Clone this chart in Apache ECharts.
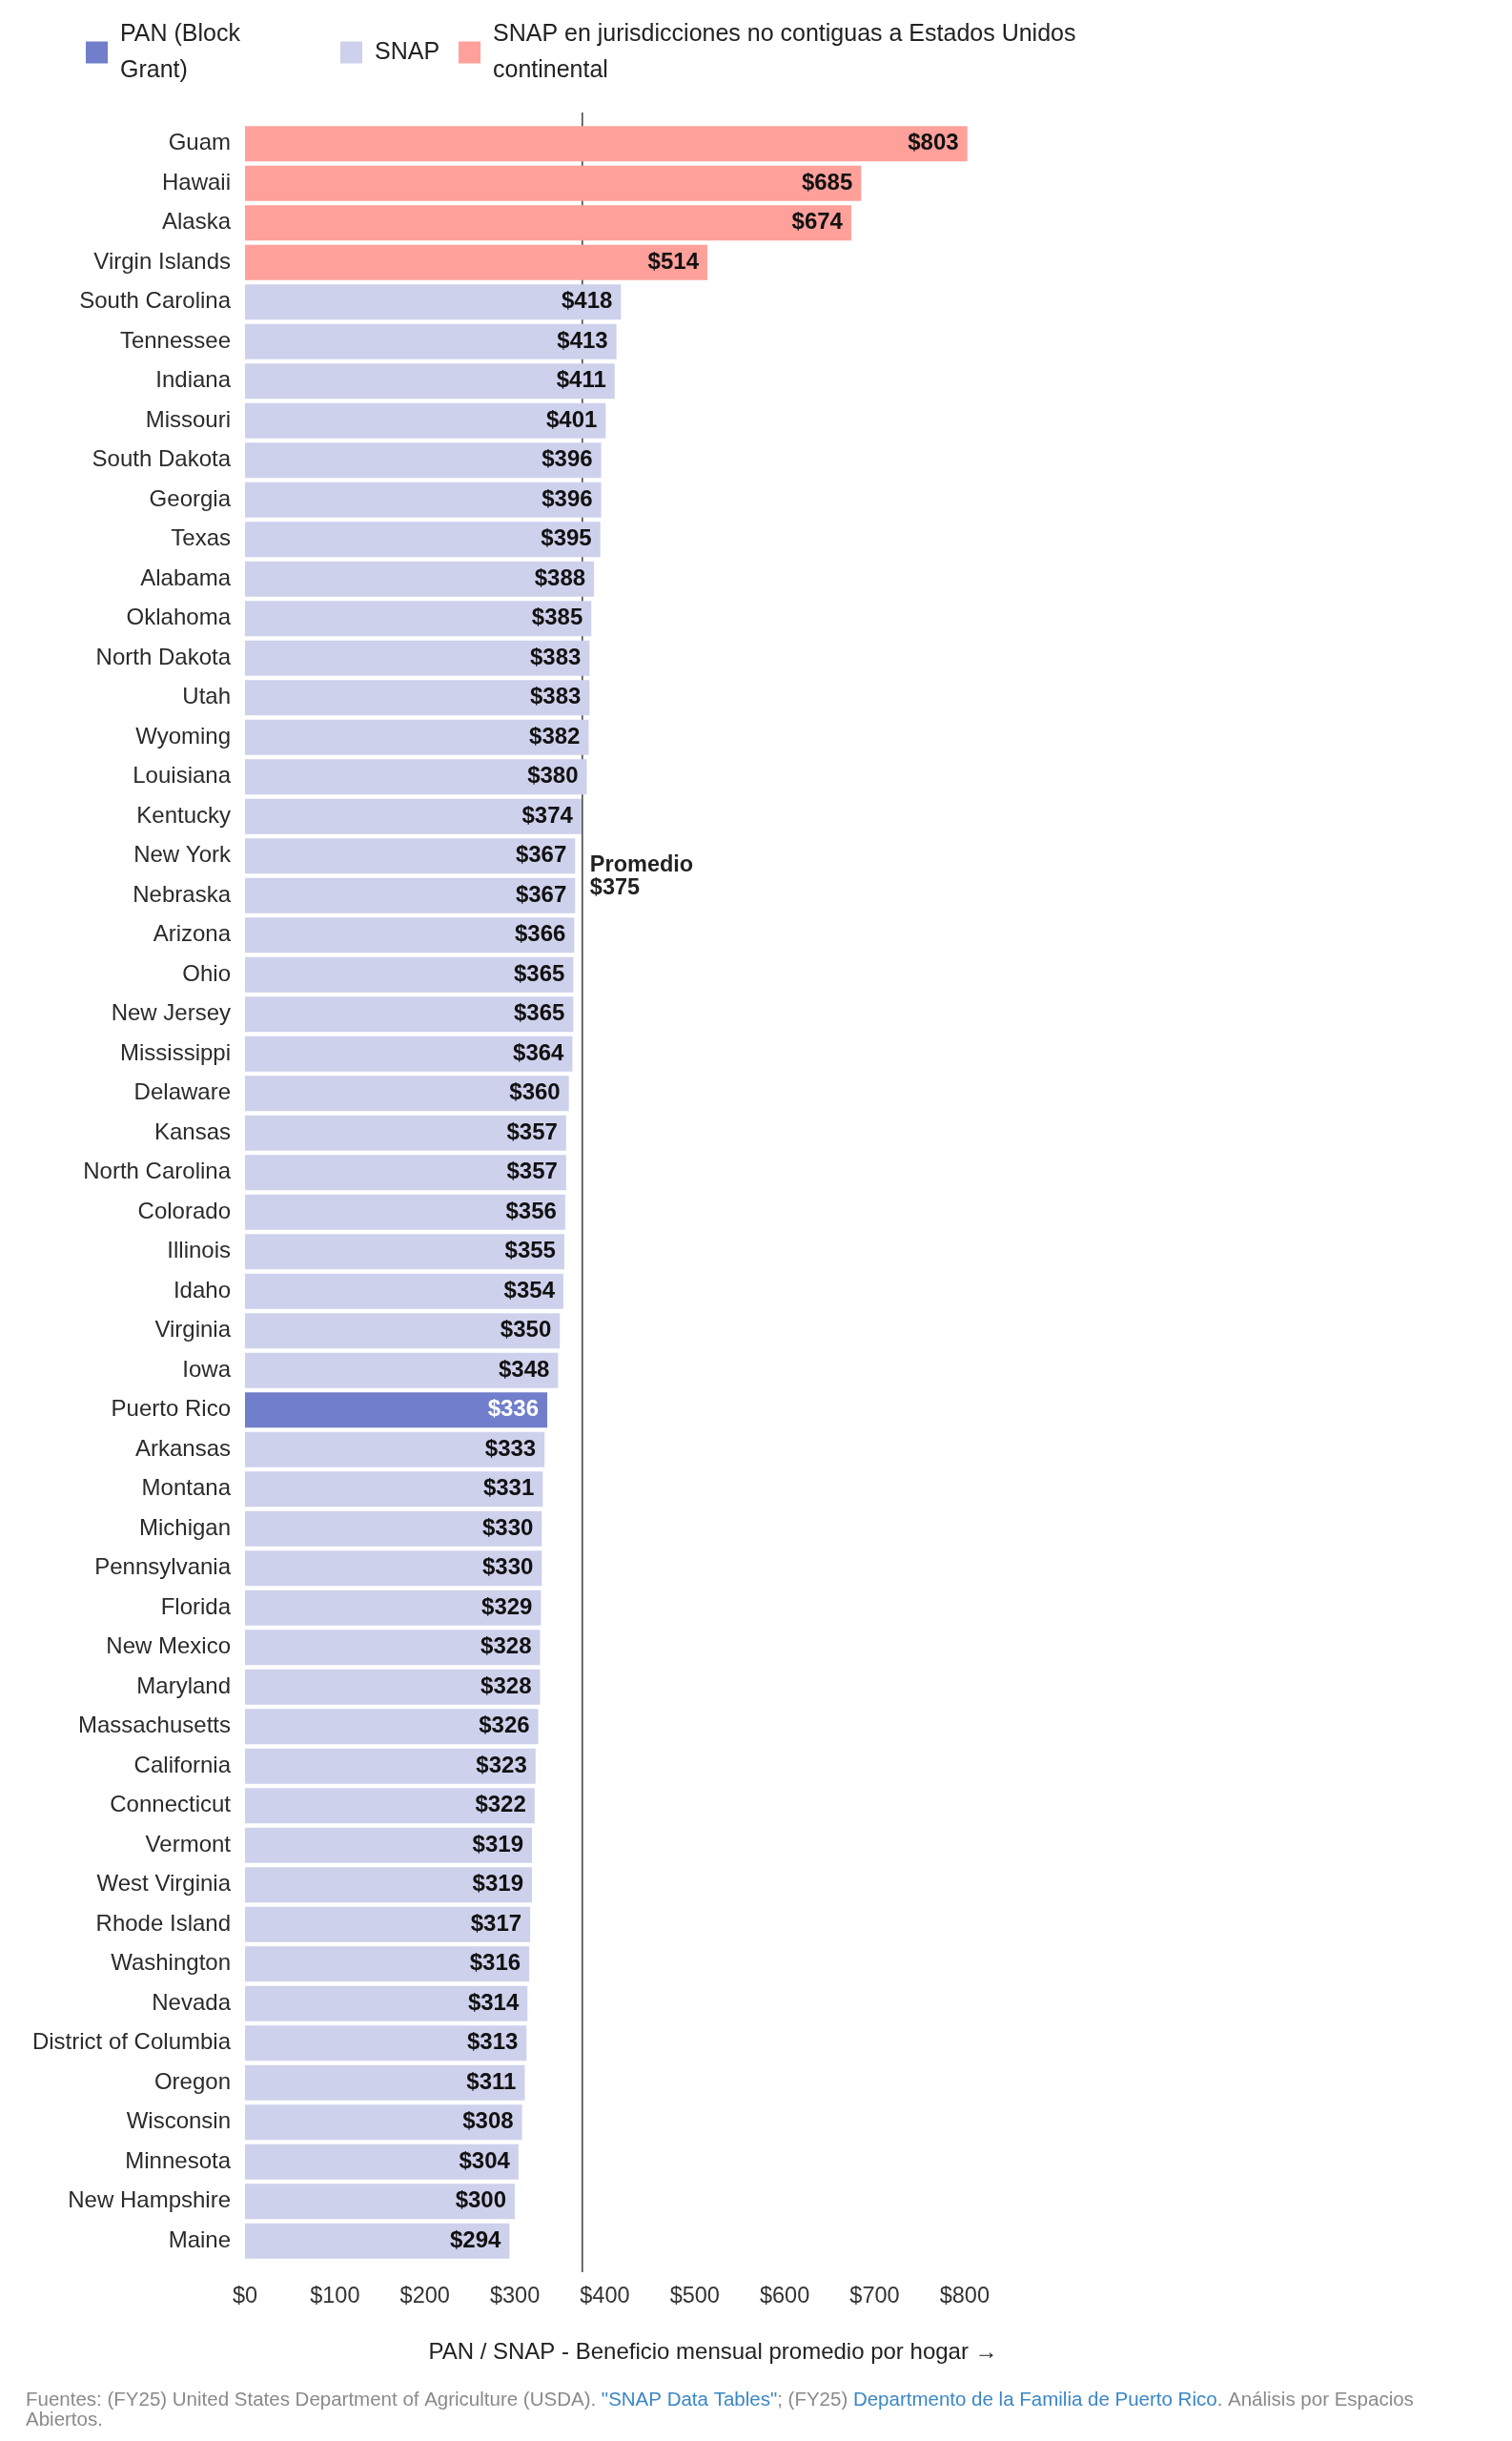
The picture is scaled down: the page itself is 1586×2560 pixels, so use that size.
<!DOCTYPE html>
<html>
<head>
<meta charset="utf-8">
<script src="https://cdn.jsdelivr.net/npm/echarts@6/dist/echarts.min.js"></script>
<style>html,body{margin:0;padding:0;background:#fff;}#c{width:1586px;height:2560px;}</style>
</head>
<body>
<div id="c"></div>
<script>
const categories = ['Guam','Hawaii','Alaska','Virgin Islands','South Carolina','Tennessee','Indiana','Missouri','South Dakota','Georgia','Texas','Alabama','Oklahoma','North Dakota','Utah','Wyoming','Louisiana','Kentucky','New York','Nebraska','Arizona','Ohio','New Jersey','Mississippi','Delaware','Kansas','North Carolina','Colorado','Illinois','Idaho','Virginia','Iowa','Puerto Rico','Arkansas','Montana','Michigan','Pennsylvania','Florida','New Mexico','Maryland','Massachusetts','California','Connecticut','Vermont','West Virginia','Rhode Island','Washington','Nevada','District of Columbia','Oregon','Wisconsin','Minnesota','New Hampshire','Maine'];
const values = [803,685,674,514,418,413,411,401,396,396,395,388,385,383,383,382,380,374,367,367,366,365,365,364,360,357,357,356,355,354,350,348,336,333,331,330,330,329,328,328,326,323,322,319,319,317,316,314,313,311,308,304,300,294];
const groups = ['NC','NC','NC','NC','SNAP','SNAP','SNAP','SNAP','SNAP','SNAP','SNAP','SNAP','SNAP','SNAP','SNAP','SNAP','SNAP','SNAP','SNAP','SNAP','SNAP','SNAP','SNAP','SNAP','SNAP','SNAP','SNAP','SNAP','SNAP','SNAP','SNAP','SNAP','PAN','SNAP','SNAP','SNAP','SNAP','SNAP','SNAP','SNAP','SNAP','SNAP','SNAP','SNAP','SNAP','SNAP','SNAP','SNAP','SNAP','SNAP','SNAP','SNAP','SNAP','SNAP'];
const groupKeys = ['PAN','SNAP','NC'];
const groupNames = ['PAN (Block Grant)','SNAP','SNAP en jurisdicciones no contiguas a Estados Unidos continental'];
const legendLabels = ['PAN (Block\nGrant)','SNAP','SNAP en jurisdicciones no contiguas a Estados Unidos\ncontinental'];
const groupColors = ['#707ecb','#ced1ec','#ffa09b'];
const labelColors = ['#ffffff','#111111','#111111'];
const average = 375;
const averageAnchor = 'New York';
const xTicks = [0,100,200,300,400,500,600,700,800];
const axisTitle = 'PAN / SNAP - Beneficio mensual promedio por hogar →';

const FONT = '"Liberation Sans", Arial, Helvetica, sans-serif';

const barSeries = groupKeys.map((g, k) => ({
  type: 'bar',
  name: groupNames[k],
  data: values.map((v, i) => groups[i] === g ? v : '-'),
  barGap: '-100%',
  barCategoryGap: '11%',
  itemStyle: { color: groupColors[k] },
  z: 3,
  label: {
    show: true,
    position: 'insideRight',
    distance: 9,
    formatter: p => '$' + p.value,
    color: labelColors[k],
    fontFamily: FONT,
    fontWeight: 'bold',
    fontSize: 24
  }
}));

const avgSeries = {
  type: 'custom',
  name: 'avg',
  z: 1,
  clip: false,
  silent: true,
  data: [[average, averageAnchor]],
  encode: { x: 0, y: 1 },
  renderItem: function (params, api) {
    const cs = params.coordSys;
    const pt = api.coord([api.value(0), api.value(1)]);
    const band = api.size([0, 1])[1];
    const x = pt[0];
    const ty = pt[1] + band / 2 + 1;
    return {
      type: 'group',
      children: [
        { type: 'line', shape: { x1: x, y1: cs.y - 12, x2: x, y2: cs.y + cs.height + 12 },
          style: { stroke: '#4a4a4a', lineWidth: 1.6 } },
        { type: 'text', x: x + 8, y: ty,
          style: { text: 'Promedio\n$' + api.value(0), fill: '#222', font: 'bold 23.5px ' + FONT,
                   lineHeight: 24, textAlign: 'left', textVerticalAlign: 'middle' } }
      ]
    };
  }
};

const legendPos = [
  { left: 85, top: 12 },
  { left: 352, top: 31 },
  { left: 476, top: 12 }
];

const legends = groupNames.map((n, k) => ({
  data: [n],
  left: legendPos[k].left,
  top: legendPos[k].top,
  orient: 'horizontal',
  selectedMode: false,
  icon: 'rect',
  itemWidth: 23,
  itemHeight: 23,
  formatter: () => legendLabels[k],
  textStyle: { fontFamily: FONT, fontSize: 25, color: '#222', lineHeight: 38, padding: [0, 0, 0, 8] }
}));

const chart = echarts.init(document.getElementById('c'), null, { renderer: 'canvas' });
chart.setOption({
  backgroundColor: '#ffffff',
  animation: false,
  legend: legends,
  grid: { left: 257, right: 527, top: 130, bottom: 189, containLabel: false },
  xAxis: {
    type: 'value',
    min: 0,
    max: 850,
    interval: 100,
    axisLine: { show: false },
    axisTick: { show: false },
    splitLine: { show: false },
    axisLabel: {
      showMaxLabel: false,
      margin: 26,
      color: '#333',
      fontFamily: FONT,
      fontSize: 23.5,
      formatter: v => xTicks.indexOf(v) >= 0 ? '$' + v : ''
    }
  },
  yAxis: {
    type: 'category',
    data: categories,
    inverse: true,
    axisLine: { show: false },
    axisTick: { show: false },
    splitLine: { show: false },
    axisLabel: { margin: 15, color: '#2b2b2b', fontFamily: FONT, fontSize: 24 }
  },
  graphic: [
    { type: 'text', x: 748, y: 2467,
      style: { text: axisTitle, fill: '#222', font: '24px ' + FONT, textAlign: 'center', textVerticalAlign: 'middle' } },
    { type: 'text', x: 27, y: 2507,
      style: {
        text: '{g|Fuentes: (FY25) United States Department of Agriculture (USDA). }{b|"SNAP Data Tables"}{g|; (FY25) }{b|Departmento de la Familia de Puerto Rico}{g|. Análisis por Espacios}\n{g|Abiertos.}',
        font: '20.5px ' + FONT,
        lineHeight: 21,
        textAlign: 'left',
        textVerticalAlign: 'top',
        rich: {
          g: { fill: '#8a8a8a', fontSize: 20.5, fontFamily: FONT, lineHeight: 21 },
          b: { fill: '#3b87c6', fontSize: 20.5, fontFamily: FONT, lineHeight: 21 }
        }
      } }
  ],
  series: [avgSeries].concat(barSeries)
});
</script>
</body>
</html>
